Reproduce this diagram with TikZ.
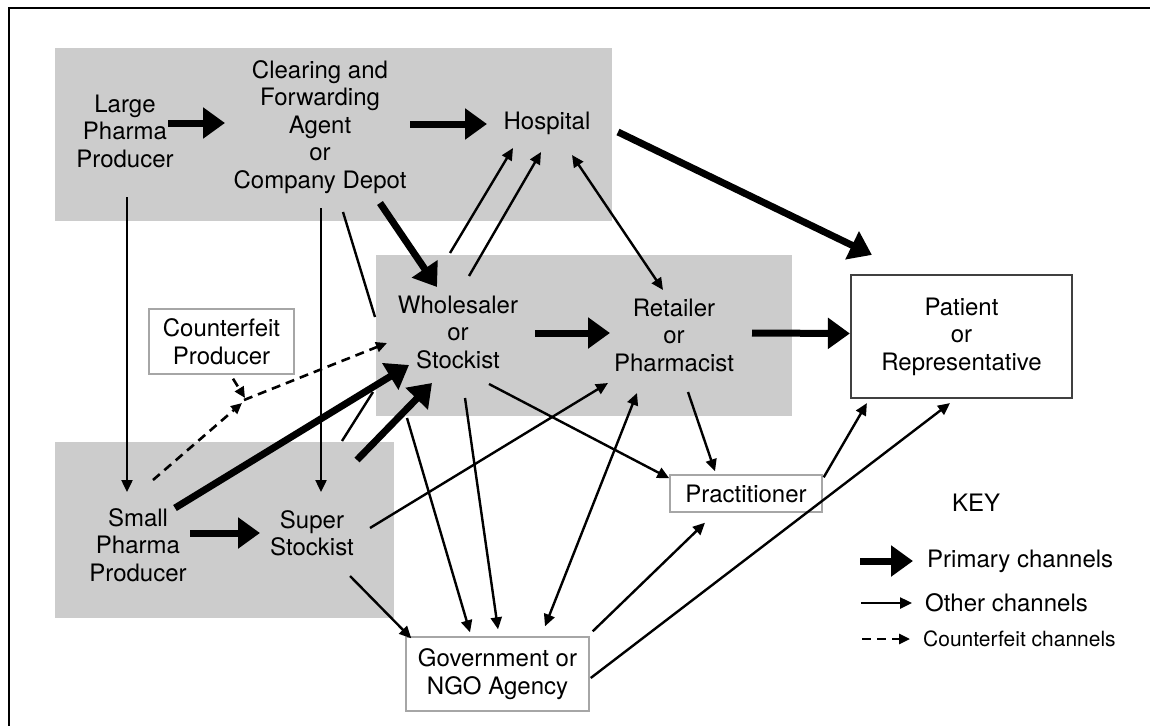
\documentclass[tikz,border=0pt]{standalone}
\usepackage{fontspec}
\setmainfont{TeX Gyre Heros}
\usetikzlibrary{arrows.meta}

\begin{document}
\begin{tikzpicture}[
                    x=1pt, y=-1pt,
                    every node/.style={align=center, inner sep=0pt, font=\fontsize{24}{27.5}\selectfont},
                    zone/.style={fill=gray!40},
                    whitebox/.style={draw=gray!70, line width=1.4pt, fill=white},
                    patientbox/.style={draw=black!75, line width=2.2pt, fill=white},
                    primary/.style={line width=7pt, -{Triangle[length=22pt,width=30pt]}},
                    other/.style={line width=2.4pt, -{Triangle[length=12pt,width=11pt]}},
                    both/.style={line width=2.4pt, {Triangle[length=12pt,width=11pt]}-{Triangle[length=12pt,width=11pt]}},
                    bare/.style={line width=2.4pt},
                    fakeline/.style={line width=2.6pt, dash pattern=on 9pt off 6pt, -{Triangle[length=11pt,width=10pt]}}
                ]

                \useasboundingbox (0,0) rectangle (1150,725);
                \fill[white] (0,0) rectangle (1150,725);
                \draw[line width=2.5pt] (9,8) rectangle (1300,900);

                % shaded groups
                \fill[zone] (55,48) rectangle (612,221);
                \fill[zone] (376,255) rectangle (792,416);
                \fill[zone] (55,442) rectangle (394,618);

                % actors
                \node (large) at (125,131) {Large\\Pharma\\Producer};
                \node (clear) at (320,127) {Clearing and\\Forwarding\\Agent\\or\\Company Depot};
                \node (hosp) at (547,123) {Hospital};
                \node (whole) at (458,332) {Wholesaler\\or\\Stockist};
                \node (retail) at (674,335) {Retailer\\or\\Pharmacist};
                \node (small) at (138,545) {Small\\Pharma\\Producer};
                \node (super) at (312,533) {Super\\Stockist};
                \node[whitebox, minimum width=145pt, minimum height=65pt] (counterfeit) at (221.5,341.5) {Counterfeit\\Producer};
                \node[whitebox, minimum width=152pt, minimum height=37pt] (prac) at (746,493.5) {Practitioner};
                \node[whitebox, minimum width=183pt, minimum height=74pt] (gov) at (497.5,674) {Government or\\NGO Agency};
                \node[patientbox, minimum width=221pt, minimum height=123pt] (patient) at (961.5,336.5) {Patient\\or\\Representative};

                % primary channels
                \draw[primary] ([shift={(43,-8)}]large.center) -- ([shift={(-95,-4)}]clear.center);
                \draw[primary] ([shift={(90,-3)}]clear.center) -- ([shift={(-60,1)}]hosp.center);
                \draw[primary] ([shift={(71,9)}]hosp.center) -- ([shift={(22,-19)}]patient.north west);
                \draw[primary] ([shift={(60,76)}]clear.center) -- ([shift={(-21,-45)}]whole.center);
                \draw[primary] ([shift={(77,1)}]whole.center) -- ([shift={(-64,-2)}]retail.center);
                \draw[primary] ([shift={(78,-2)}]retail.center) -- ([shift={(0,-3)}]patient.west);
                \draw[primary] ([shift={(37,-37)}]small.center) -- ([shift={(-49,33)}]whole.center);
                \draw[primary] ([shift={(45,-73)}]super.center) -- ([shift={(-26,51)}]whole.center);
                \draw[primary] ([shift={(52,-12)}]small.center) -- ([shift={(-52,0)}]super.center);

                % other channels
                \draw[other] ([shift={(2,66)}]large.center) -- ([shift={(-11,-53)}]small.center);
                \draw[other] ([shift={(1,81)}]clear.center) -- ([shift={(9,-41)}]super.center);
                \draw[bare] ([shift={(23,85)}]clear.center) -- ([shift={(-83,-15)}]whole.center);
                \draw[bare] ([shift={(30,-92)}]super.center) -- ([shift={(-85,60)}]whole.center);
                \draw[other] ([shift={(-8,-79)}]whole.center) -- ([shift={(-34,25)}]hosp.center);
                \draw[other] ([shift={(11,-56)}]whole.center) -- ([shift={(-6,29)}]hosp.center);
                \draw[both] ([shift={(25,32)}]hosp.center) -- ([shift={(-11,-45)}]retail.center);
                \draw[other] ([shift={(31,52)}]whole.center) -- ([shift={(0,4)}]prac.north west);
                \draw[other] ([shift={(14,57)}]retail.center) -- ([shift={(-31,-3)}]prac.north);
                \draw[other] ([shift={(58,-5)}]super.center) -- ([shift={(-66,48)}]retail.center);
                \draw[other] ([shift={(38,43)}]super.center) -- ([shift={(6,2)}]gov.north west);
                \draw[other] ([shift={(-51,86)}]whole.center) -- ([shift={(-27.5,-4)}]gov.north);
                \draw[other] ([shift={(7,66)}]whole.center) -- ([shift={(0.5,-7)}]gov.north);
                \draw[both] ([shift={(47.5,-10)}]gov.north) -- ([shift={(-37,58)}]retail.center);
                \draw[other] ([shift={(3,-5)}]gov.north east) -- ([shift={(-41,10)}]prac.south);
                \draw[other] ([shift={(1,4)}]gov.east) -- ([shift={(-11.5,4)}]patient.south);
                \draw[other] ([shift={(1,3)}]prac.north east) -- ([shift={(17,4)}]patient.south west);

                % counterfeit channels
                \coordinate (merge) at (244,400);
                \draw[fakeline] ([shift={(11.5,4)}]counterfeit.south) -- ([shift={(1,-2)}]merge);
                \draw[fakeline] ([shift={(15,-65)}]small.center) -- ([shift={(-2,3)}]merge);
                \draw[fakeline] (merge) -- ([shift={(-71,11)}]whole.center);

                % key
                \node (key) at (976,503) {KEY};
                \node[anchor=west] (kprimary) at (927,561) {Primary channels};
                \node[anchor=west] (kother) at (925,603) {Other channels};
                \node[anchor=west, font=\fontsize{21}{25}\selectfont] (kfake) at (923,639) {Counterfeit channels};
                \draw[primary] ([xshift=-67pt]kprimary.west) -- ([xshift=-14pt]kprimary.west);
                \draw[other] ([xshift=-64pt]kother.west) -- ([xshift=-13pt]kother.west);
                \draw[fakeline] ([xshift=-61pt]kfake.west) -- ([xshift=-13pt]kfake.west);

                \end{tikzpicture}
\end{document}
